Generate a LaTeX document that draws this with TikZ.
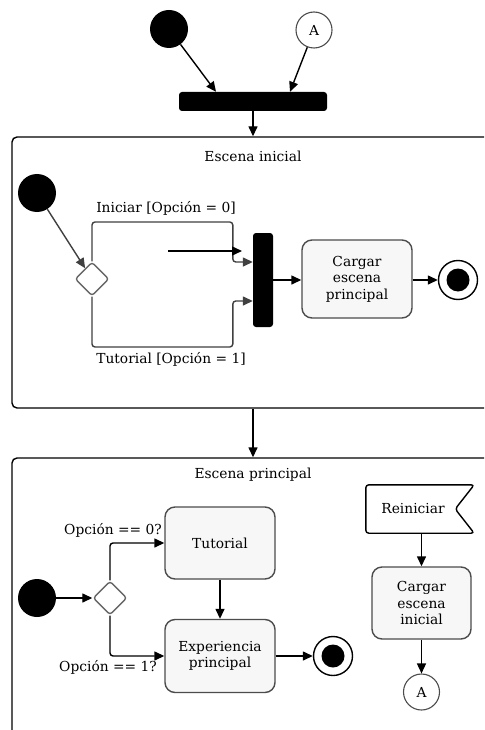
\documentclass[tikz,border=0pt]{standalone}
\usepackage{fontspec}
\setmainfont{DejaVu Serif}
\usetikzlibrary{arrows.meta,shapes.geometric,calc}

\begin{document}
\begin{tikzpicture}[x=1pt,y=-1pt,
  every node/.style={font=\fontsize{13.8}{16.5}\selectfont, text=black},
  flow/.style={draw=black, line width=1.4pt, -{Triangle[length=10pt,width=9pt]}},
  gflow/.style={draw=black!75, line width=1.4pt, -{Triangle[length=10pt,width=9pt]}, rounded corners=3pt},
  startnode/.style={circle, fill=black, minimum size=38pt, inner sep=0pt},
  endnode/.style={circle, draw=black, line width=1.4pt, fill=white, minimum size=39pt, inner sep=0pt,
    path picture={\fill[black] (path picture bounding box.center) circle (11.5pt);}},
  connector/.style={circle, draw=black!70, line width=1.1pt, fill=white, minimum size=36pt, inner sep=0pt},
  action/.style={draw=black!70, line width=1.4pt, fill=black!3, rounded corners=10pt, align=center,
    minimum width=110pt, minimum height=73pt, inner sep=2pt},
  decision/.style={diamond, draw=black!60, line width=1.4pt, fill=white, rounded corners=3pt,
    minimum size=34pt, inner sep=0pt},
  container/.style={draw=black, line width=1.4pt, rounded corners=5pt, fill=white, inner sep=0pt},
  syncbar/.style={fill=black, rounded corners=3pt, inner sep=0pt},
  label/.style={inner sep=0pt}
]
\useasboundingbox (0,0) rectangle (484,730);
\clip (0,0) rectangle (484,730);

% --- entry: start and connector A join into a fork bar
\node[startnode] (s0) at (169,29) {};
\node[connector] (a1) at (314,30) {A};
\node[syncbar, minimum width=148pt, minimum height=19pt] (bar1) at (253,101.5) {};
\draw[flow] (s0) -- ($(bar1.north)+(-37,0)$);
\draw[flow] (a1) -- ($(bar1.north)+(37,0)$);

% --- container: Escena inicial
\node[container, minimum width=488pt, minimum height=271pt] (escIni) at (256,272.5) {};
\draw[flow] (bar1.south) -- (bar1.south |- escIni.north);
\node[label] (tIni) at (253,156) {Escena inicial};

\node[startnode] (s1) at (37,193) {};
\node[decision] (d1) at (92,279) {};
\node[syncbar, minimum width=20pt, minimum height=94pt] (bar2) at (263,280) {};
\node[action, minimum height=78pt] (cep) at (357,279) {Cargar\\escena\\principal};
\node[endnode] (f1) at (458,280) {};

\draw[gflow] (s1) -- (d1);
\draw[gflow] (d1.north) |- ($(bar2.west)+(-20,-58)$)
                        |- ($(bar2.west)+(0,-18)$);
\draw[gflow] (d1.south) |- ($(bar2.west)+(-20,67)$)
                        |- ($(bar2.west)+(0,21)$);
\node[label] (lIni) at (166,208) {Iniciar [Opción = 0]};
\node[label] (lTut) at (171,359) {Tutorial [Opción = 1]};

\coordinate (strayA) at (168,251);
\coordinate (strayB) at (242,251);
\draw[flow] (strayA) -- (strayB);

\draw[flow] (bar2.east) -- (bar2.east -| cep.west);
\draw[flow] (cep.east |- f1.west) -- (f1.west);

% --- container: Escena principal
\node[container, minimum width=488pt, minimum height=302pt] (escPri) at (256,609) {};
\draw[flow] (bar1.south |- escIni.south) -- (bar1.south |- escPri.north);
\node[label] (tPri) at (253,475) {Escena principal};

\node[startnode] (s2) at (37,598) {};
\node[decision] (d2) at (110,598) {};
\node[action, minimum height=72pt] (tut) at (220,543) {Tutorial};
\node[action, minimum height=73pt] (exp) at (220,656) {Experiencia\\principal};
\node[endnode] (f2) at (333,656) {};

\draw[flow] (s2) -- (d2);
\draw[flow, rounded corners=3pt] (d2.north) |- (tut.west);
\draw[flow, rounded corners=3pt] (d2.south) |- (exp.west);
\node[label] (l0) at (113,530) {Opción == 0?};
\node[label] (l1) at (108,667) {Opción == 1?};
\draw[flow] (tut) -- (exp);
\draw[flow] (exp) -- (f2);

% signal receipt, restart branch
\node[label, minimum width=94pt, minimum height=48pt] (rein) at (413,509) {};
\draw[line width=1.4pt, rounded corners=3pt, fill=white]
  (rein.north west) -- ($(rein.north east)+(14,0)$) -- ($(rein.east)+(-5,0)$)
  -- ($(rein.south east)+(14,0)$) -- (rein.south west) -- cycle;
\node[label] (reinText) at (rein) {Reiniciar};
\node[action, minimum width=99pt, minimum height=72pt] (cei) at (421.5,603) {Cargar\\escena\\inicial};
\node[connector] (a2) at (421.5,692) {A};
\draw[flow] (rein.south -| cei.north) -- (cei.north);
\draw[flow] (cei) -- (a2);
\end{tikzpicture}
\end{document}
